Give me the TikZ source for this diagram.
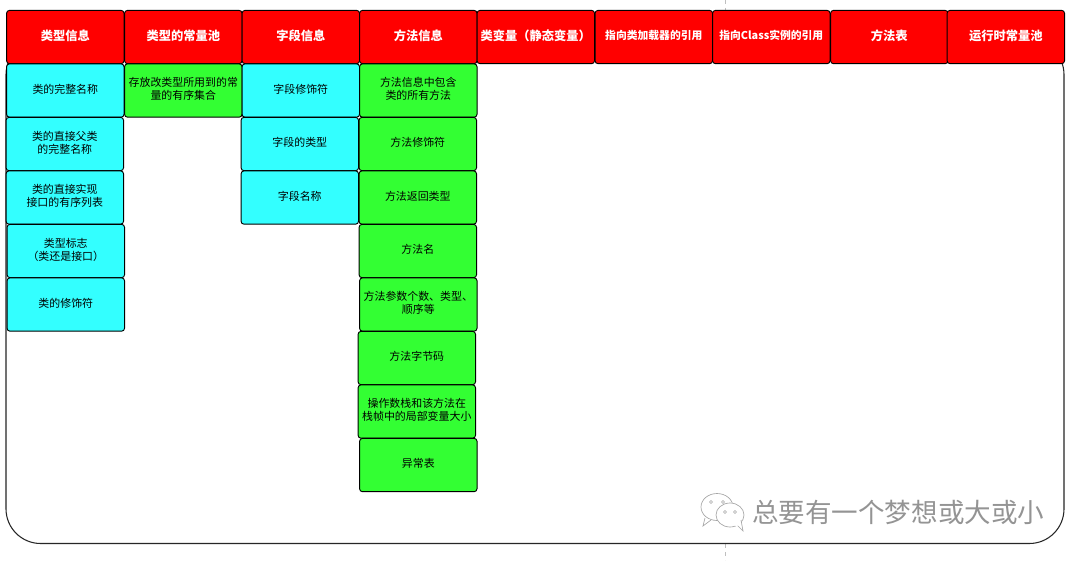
\documentclass[tikz,border=0pt]{standalone}
\usepackage{fontspec}
\setmainfont{Noto Sans CJK SC}
\definecolor{limegreen}{HTML}{33FF33}
\definecolor{aquafill}{HTML}{33FFFF}
\begin{document}
\begin{tikzpicture}[x=0.75pt,y=-0.75pt,
  cellbase/.style={draw=black,line width=0.7pt,rounded corners=2.2pt,anchor=north west,align=center,
    inner sep=0pt,minimum width=88.1pt,minimum height=40pt,text depth=3pt,text=black,font=\fontsize{8.2pt}{9.7pt}\selectfont},
  headbox/.style={cellbase,fill=red,text=white,font=\fontsize{9.2pt}{11pt}\selectfont\bfseries},
  headsmall/.style={headbox,font=\fontsize{8.1pt}{10pt}\selectfont\bfseries},
  cyanbox/.style={cellbase,fill=aquafill},
  greenbox/.style={cellbase,fill=limegreen},
  marktext/.style={text=black!42,font=\fontsize{19.9pt}{24pt}\selectfont,anchor=west,inner sep=0pt},
  bubble/.style={draw=black!35,line width=0.5pt,fill=white}
]
\useasboundingbox (0,0) rectangle (1080,560);
\fill[white] (0,0) rectangle (1080,560);
% dashed guide
\coordinate (gt) at (725,0);
\coordinate (gb) at (725,560);
\draw[black!25,line width=0.7pt,dashed] (gt) -- (gb);
% container
\draw[draw=black!85,line width=0.8pt,fill=white,rounded corners=26pt] (6,40) -- (6,543.5) -- (1064,543.5) -- (1064,40) -- cycle;
\begin{scope}[shift={(-0.4,-0.6)}]
% headers
\node[headbox]   (h1) at (6.5,10.5)  {类型信息};
\node[headbox]   (h2) at (124.5,10.5)  {类型的常量池};
\node[headbox]   (h3) at (242,10.5)  {字段信息};
\node[headbox]   (h4) at (359.5,10.5)  {方法信息};
\node[headbox]   (h5) at (477,10.5)  {类变量（静态变量）};
\node[headsmall] (h6) at (595,10.5)  {指向类加载器的引用};
\node[headsmall] (h7) at (712.5,10.5){指向Class实例的引用};
\node[headbox]   (h8) at (830.5,10.5){方法表};
\node[headbox]   (h9) at (947,10.5)  {运行时常量池};
% column 1
\node[cyanbox] (a1) at (6.5,64)    {类的完整名称};
\node[cyanbox] (a2) at (6,117.5)   {类的直接父类\\的完整名称};
\node[cyanbox] (a3) at (6,171)     {类的直接实现\\接口的有序列表};
\node[cyanbox] (a4) at (7,224.5)   {类型标志\\（类还是接口）};
\node[cyanbox] (a5) at (7,278)     {类的修饰符};
% column 2
\node[greenbox] (b1) at (124.5,64) {存放改类型所用到的常\\量的有序集合};
% column 3
\node[cyanbox] (c1) at (242,64)    {字段修饰符};
\node[cyanbox] (c2) at (241,117.5) {字段的类型};
\node[cyanbox] (c3) at (241,171)   {字段名称};
% column 4
\node[greenbox] (d1) at (359.5,64)  {方法信息中包含\\类的所有方法};
\node[greenbox] (d2) at (359,117.5) {方法修饰符};
\node[greenbox] (d3) at (359,171)   {方法返回类型};
\node[greenbox] (d4) at (359,224.5) {方法名};
\node[greenbox] (d5) at (359.5,278) {方法参数个数、类型、\\顺序等};
\node[greenbox] (d6) at (358,331.5) {方法字节码};
\node[greenbox] (d7) at (358,385)   {操作数栈和该方法在\\栈帧中的局部变量大小};
\node[greenbox] (d8) at (359.5,438.5){异常表};
\end{scope}
% watermark
\draw[bubble] (717,507) ellipse (16 and 13.5);
\draw[bubble] (705,518) -- (703,526) -- (711,520);
\draw[bubble] (730,515) ellipse (14 and 12);
\draw[bubble] (737,525) -- (743,531) -- (741,520);
\fill[white] (731,523) -- (740,521) -- (741,525) -- (736,526) -- cycle;
\foreach \p in {(711,502),(723,502),(725,512),(735,512)} \draw[black!35,line width=0.4pt] \p circle (1.5);
\node[marktext] (wm) at (752,512) {总要有一个梦想或大或小};
\end{tikzpicture}
\end{document}
